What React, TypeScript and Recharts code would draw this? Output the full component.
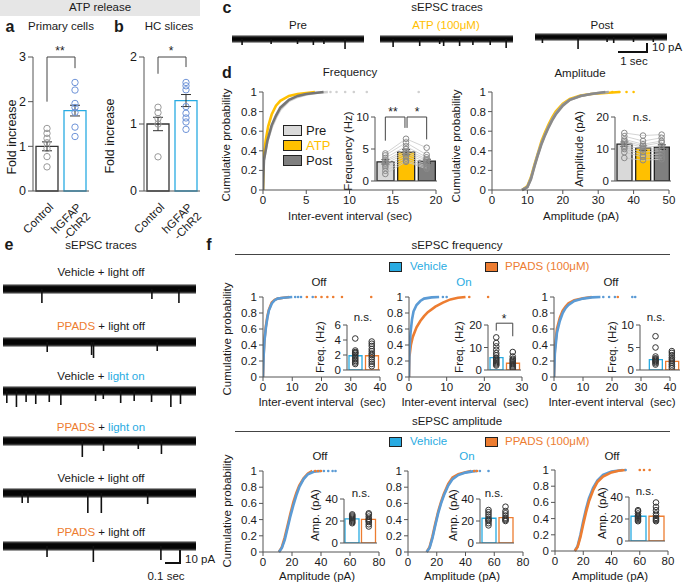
import React from 'react'
import {
  ComposedChart,
  Line,
  Bar,
  Cell,
  Scatter,
  XAxis,
  YAxis,
  ErrorBar,
  ReferenceLine,
  ReferenceArea,
} from 'recharts'

const FONT = '"Liberation Sans", Arial, Helvetica, sans-serif'
const AXIS = '#555'
const INK = '#1a1a1a'
const BLUE = '#29abe2'
const BLUE_LINE = '#5b9bd5'
const ORANGE = '#ed7d31'
const YELLOW = '#ffc000'
const LIGHT = '#d0d0d0'
const DARK = '#767676'

// ---- panel a / b : ATP release (fold increase)
const aCtrlDots = [1.4, 1.29, 1.18, 1.08, 0.95, 0.77, 0.54]
const aChr2Dots = [2.43, 2.26, 1.96, 1.87, 1.76, 1.43, 1.22]
const aBars = [1.0, 1.8]
const aErr = [0.1, 0.12]
const bCtrlDots = [1.25, 1.17, 1.08, 1.0, 0.51]
const bChr2Dots = [1.62, 1.57, 1.51, 1.26, 1.16, 1.09, 1.03, 0.92]
const bBars = [1.0, 1.35]
const bErr = [0.1, 0.09]

// ---- panel c : traces, [time fraction, spike depth]
const cPre = [[0.08, 3], [0.3, 2], [0.5, 2], [0.62, 3], [0.7, 2], [0.86, 7]]
const cAtp = [[0.1, 5], [0.3, 4], [0.45, 2], [0.48, 4], [0.6, 4], [0.7, 3], [0.83, 3], [0.95, 6]]
const cPost = [[0.06, 3], [0.33, 9], [0.55, 2], [0.6, 3], [0.75, 2], [0.9, 2]]

// ---- panel d : frequency / amplitude CDF, [x, cumulative p]
const dFreqPre = [[0, 0], [0.1, 0.3], [0.5, 0.5], [1, 0.64], [1.5, 0.74], [2, 0.82], [3, 0.91], [4, 0.95], [5, 0.975], [6, 0.99], [7.5, 1]]
const dFreqAtp = [[0, 0], [0.05, 0.3], [0.3, 0.5], [0.6, 0.65], [1, 0.77], [1.5, 0.86], [2, 0.91], [3, 0.96], [4, 0.98], [5, 0.99], [6, 1]]
const dFreqPost = [[0, 0], [0.1, 0.3], [0.5, 0.5], [1, 0.66], [1.5, 0.76], [2, 0.84], [3, 0.92], [4, 0.96], [5, 0.98], [6, 0.99], [7, 1]]
const dFreqTail = [7.8, 8.5, 9.5, 10.5, 12, 18]
const dAmpPre = [[8.5, 0], [10, 0.03], [11, 0.12], [12, 0.25], [13, 0.37], [14, 0.48], [15, 0.57], [16, 0.65], [17, 0.72], [18, 0.78], [20, 0.87], [22, 0.92], [25, 0.96], [28, 0.98], [30, 0.99], [33, 1]]
const dAmpAtp = [[8.5, 0], [10, 0.04], [11, 0.13], [12, 0.26], [13, 0.38], [14, 0.5], [15, 0.59], [16, 0.67], [17, 0.74], [18, 0.8], [20, 0.88], [22, 0.93], [25, 0.965], [28, 0.98], [32, 0.99], [36, 1]]
const dAmpPost = [[8.5, 0], [10, 0.03], [11, 0.11], [12, 0.24], [13, 0.36], [14, 0.47], [15, 0.56], [16, 0.64], [17, 0.71], [18, 0.77], [20, 0.86], [22, 0.92], [25, 0.96], [28, 0.98], [30, 0.99], [32, 1]]
const dAmpTail = [34, 36, 38, 40]

const dFreqPreCells = [4.3, 4.0, 3.6, 3.2, 3.0, 2.7, 2.4, 2.1, 1.6, 1.1]
const dFreqAtpCells = [6.6, 6.0, 5.4, 5.0, 4.6, 4.3, 3.9, 3.5, 3.2, 3.0]
const dFreqPostCells = [5.2, 4.1, 3.7, 3.4, 3.2, 2.9, 2.6, 2.3, 2.1, 1.9]
const dFreqMeans = [3.0, 4.5, 3.1]
const dFreqErr = [0.35, 0.4, 0.3]
const dAmpPreCells = [15, 14, 13, 12.5, 12, 11, 10.5, 10, 9, 7.2]
const dAmpAtpCells = [14.2, 12.5, 11.5, 11, 10.5, 10, 9, 8, 7.5, 6.5]
const dAmpPostCells = [14.5, 13.5, 12.5, 12, 11, 10, 9.5, 8.5, 7.5, 6.8]
const dAmpMeans = [11.5, 10.3, 10.6]
const dAmpErr = [0.7, 0.7, 0.7]

// ---- panel e : traces
const eVehOff1 = [[0.2, 10], [0.77, 6], [0.91, 10]]
const ePpOff1 = [[0.23, 6], [0.46, 9], [0.47, 12], [0.8, 5]]
const eVehOn = [[0.02, 8], [0.07, 12], [0.12, 7], [0.17, 9], [0.24, 7], [0.3, 10], [0.48, 6], [0.52, 4], [0.61, 8], [0.68, 6], [0.77, 7], [0.87, 12], [0.92, 9]]
const ePpOn = [[0.41, 12], [0.52, 6], [0.7, 4], [0.82, 9]]
const eVehOff2 = [[0.1, 6], [0.13, 6], [0.44, 16], [0.51, 16], [0.75, 7]]
const ePpOff2 = [[0.23, 7], [0.47, 12], [0.82, 10]]

// ---- panel f : frequency CDFs
const fFreqOff1Veh = [[0, 0], [0.2, 0.25], [0.5, 0.45], [1, 0.62], [1.5, 0.74], [2, 0.83], [3, 0.92], [4, 0.96], [5, 0.98], [7, 0.99], [10, 1]]
const fFreqOff1Pp = [[0, 0], [0.2, 0.27], [0.5, 0.47], [1, 0.64], [1.5, 0.76], [2, 0.84], [3, 0.93], [4, 0.965], [5, 0.98], [7, 0.99], [9, 1]]
const fFreqOff1VehTail = [11, 12, 13, 17]
const fFreqOff1PpTail = [15, 18, 20, 22, 24, 27, 37]
const fFreqOnVeh = [[0, 0], [0.1, 0.3], [0.4, 0.55], [0.8, 0.72], [1.2, 0.82], [2, 0.9], [3, 0.95], [4, 0.98], [6, 0.995], [8, 1]]
const fFreqOnPp = [[0, 0], [0.1, 0.25], [0.5, 0.4], [1, 0.5], [2, 0.62], [3, 0.7], [4, 0.76], [5, 0.81], [7, 0.88], [9, 0.93], [11, 0.97], [13, 0.99], [15, 1]]
const fFreqOnVehTail = [9, 10]
const fFreqOnPpTail = [16, 21]
const fFreqOff2Veh = [[0, 0], [0.3, 0.3], [1, 0.55], [2, 0.7], [3, 0.8], [4, 0.86], [5, 0.9], [7, 0.95], [10, 0.98], [13, 0.995], [16, 1]]
const fFreqOff2Pp = [[0, 0], [0.3, 0.35], [1, 0.6], [2, 0.74], [3, 0.83], [4, 0.88], [5, 0.92], [7, 0.96], [10, 0.985], [13, 1]]
const fFreqOff2VehTail = [17, 19, 21, 27, 28]
const fFreqOff2PpTail = [22]

const fFreqOff1Means = [1.9, 1.9]
const fFreqOff1VehCells = [4.2, 2.6, 2.4, 2.3, 2.2, 2.0, 1.8, 1.6, 1.4, 1.2, 1.0, 0.8]
const fFreqOff1PpCells = [3.8, 3.5, 3.2, 2.8, 2.5, 2.2, 2.0, 1.7, 1.4, 1.1, 0.8, 0.5]
const fFreqOnMeans = [5.5, 3.0]
const fFreqOnVehCells = [14.5, 12, 10.5, 9, 7.5, 6.5, 5.5, 5, 4.5, 4, 3.5, 3, 2.5, 2]
const fFreqOnPpCells = [8, 6, 5, 4.5, 4, 3.5, 3, 2.5, 2, 1.5, 1, 0.5]
const fFreqOff2Means = [2.3, 1.9]
const fFreqOff2VehCells = [7.5, 5, 3, 2.6, 2.4, 2.2, 2, 1.8, 1.5, 1.2]
const fFreqOff2PpCells = [4.2, 3.8, 3.3, 2.8, 2.4, 2, 1.6, 1.2, 0.8, 0.4]

// ---- panel f : amplitude CDFs
const fAmpOff1Veh = [[11, 0], [13, 0.05], [15, 0.15], [17, 0.3], [19, 0.45], [21, 0.58], [23, 0.7], [25, 0.8], [28, 0.9], [31, 0.96], [35, 0.99], [40, 1]]
const fAmpOff1Pp = [[11, 0], [13, 0.06], [15, 0.18], [17, 0.33], [19, 0.48], [21, 0.62], [23, 0.73], [25, 0.82], [28, 0.91], [31, 0.97], [34, 1]]
const fAmpOff1VehTail = [42, 45, 48, 50]
const fAmpOff1PpTail = [36, 38, 40]
const fAmpOnVeh = [[13, 0], [15, 0.05], [17, 0.17], [19, 0.33], [21, 0.48], [23, 0.6], [25, 0.7], [28, 0.82], [31, 0.9], [35, 0.95], [40, 0.98], [45, 0.995], [48, 1]]
const fAmpOnPp = [[13, 0], [15, 0.06], [17, 0.19], [19, 0.35], [21, 0.5], [23, 0.62], [25, 0.72], [28, 0.84], [31, 0.92], [35, 0.96], [40, 0.985], [44, 1]]
const fAmpOnVehTail = [50, 56]
const fAmpOnPpTail = [46, 48]
const fAmpOff2Veh = [[14, 0], [16, 0.06], [18, 0.2], [20, 0.37], [22, 0.52], [24, 0.65], [27, 0.78], [30, 0.87], [34, 0.94], [40, 0.98], [48, 1]]
const fAmpOff2Pp = [[14, 0], [16, 0.05], [18, 0.17], [20, 0.33], [22, 0.48], [24, 0.61], [27, 0.75], [30, 0.85], [34, 0.92], [40, 0.97], [45, 0.99], [50, 1]]
const fAmpOff2VehTail = [50]
const fAmpOff2PpTail = [60, 63, 67]

const fAmpOff1Means = [22, 21.5]
const fAmpOff1VehCells = [26, 25, 24, 23, 22, 21, 20, 19, 18]
const fAmpOff1PpCells = [27, 26, 24, 22, 21, 20, 19, 17, 15]
const fAmpOnMeans = [22.5, 23]
const fAmpOnVehCells = [30, 28, 26, 24, 22, 21, 20, 18, 16]
const fAmpOnPpCells = [33, 29, 27, 25, 23, 22, 21, 20]
const fAmpOff2Means = [22.5, 22.5]
const fAmpOff2VehCells = [28, 27, 25, 23, 22, 21, 20, 19, 18]
const fAmpOff2PpCells = [35, 31, 28, 25, 23, 21, 20, 19, 18]

const toXY = (pairs: number[][]) => pairs.map(([x, y]) => ({ x, y }))
const tail = (xs: number[]) => xs.map(x => ({ x, y: 1 }))

// text helpers
function T({ x, y, s = 11.5, c = INK, rot = false, b = false, children }: any) {
  return (
    <div
      style={{
        position: 'absolute',
        left: x,
        top: y,
        transform: `translate(-50%, -50%)${rot ? ' rotate(-90deg)' : ''}`,
        fontSize: s,
        color: c,
        fontWeight: b ? 700 : 400,
        whiteSpace: 'pre',
        lineHeight: 1,
      }}
    >
      {children}
    </div>
  )
}

function L({ x, y, s = 11.5, c = INK, children }: any) {
  return (
    <div style={{ position: 'absolute', left: x, top: y, transform: 'translateY(-50%)', fontSize: s, color: c, whiteSpace: 'pre', lineHeight: 1 }}>
      {children}
    </div>
  )
}

function Box({ x, y, w, h, fill }: any) {
  return <div style={{ position: 'absolute', left: x, top: y, width: w, height: h, background: fill, border: '1px solid #222', boxSizing: 'border-box' }} />
}

const tickStyle = { fontSize: 11.5, fill: INK, fontFamily: FONT }

// cumulative probability plot
function Cdf({ x0, y1, w, h, xMax, xTicks, lines, dots }: any) {
  const YW = 34
  const XH = 18
  const MT = 7
  const MR = 12
  return (
    <div style={{ position: 'absolute', left: x0 - YW, top: y1 - MT }}>
      <ComposedChart width={YW + w + MR} height={MT + h + XH} margin={{ top: MT, right: MR, left: 0, bottom: 0 }}>
        <XAxis type="number" dataKey="x" domain={[0, xMax]} ticks={xTicks} interval={0} allowDataOverflow height={XH} stroke={AXIS} tickSize={4} tick={tickStyle} />
        <YAxis type="number" dataKey="y" domain={[0, 1]} ticks={[0, 0.2, 0.4, 0.6, 0.8, 1]} interval={0} width={YW} stroke={AXIS} tickSize={4} tick={tickStyle} />
        {lines.map((l: any, i: number) => (
          <Line key={i} data={toXY(l.data)} dataKey="y" type="linear" stroke={l.color} strokeWidth={2.6} dot={false} isAnimationActive={false} />
        ))}
        {dots.map((d: any, i: number) => (
          <Scatter
            key={'t' + i}
            data={tail(d.data)}
            isAnimationActive={false}
            shape={(p: any) => <circle cx={p.cx} cy={p.cy} r={1.3} fill={d.color} />}
          />
        ))}
      </ComposedChart>
    </div>
  )
}

// inset bar plot with single-cell dots
function Inset({ x0, yTop, w, h, yMax, ticks, means, errs, fills, strokes, cells, dotColor, barSize, pad = 0, pairs = false, brackets = [] }: any) {
  const YW = 32
  const MT = 8
  const MB = 8
  const data = means.map((m: number, i: number) => ({ x: i + 0.5, y: m, e: errs ? errs[i] : 0 }))
  return (
    <div style={{ position: 'absolute', left: x0 - YW, top: yTop - MT }}>
      <ComposedChart width={YW + w + 4} height={MT + h + 2 + MB} data={data} margin={{ top: MT, right: 4, left: 0, bottom: MB }}>
        <XAxis type="number" dataKey="x" domain={[-pad, means.length]} allowDataOverflow height={2} tick={false} tickLine={false} stroke={AXIS} />
        <YAxis type="number" dataKey="y" domain={[0, yMax]} ticks={ticks} interval={0} allowDataOverflow width={YW} stroke={AXIS} tickSize={4} tick={tickStyle} />
        <Bar dataKey="y" barSize={barSize} strokeWidth={1.3} isAnimationActive={false}>
          {means.map((_: number, i: number) => (
            <Cell key={i} fill={fills[i]} stroke={strokes[i]} />
          ))}
          {errs && <ErrorBar dataKey="e" width={4} stroke="#222" strokeWidth={1} />}
        </Bar>
        {pairs &&
          cells[0].map((_: number, k: number) => (
            <Line
              key={'p' + k}
              data={cells.map((c: number[], i: number) => ({ x: i + 0.5, y: c[k] }))}
              dataKey="y"
              stroke="#c8c8c8"
              strokeWidth={0.8}
              dot={false}
              isAnimationActive={false}
            />
          ))}
        {cells.map((c: number[], i: number) => (
          <Scatter
            key={'s' + i}
            data={c.map(v => ({ x: i + 0.5, y: v }))}
            isAnimationActive={false}
            shape={(p: any) => <circle cx={p.cx} cy={p.cy} r={2.8} fill="none" stroke={dotColor} strokeWidth={1} />}
          />
        ))}
        {brackets.map((seg: number[][], i: number) => (
          <ReferenceLine
            key={'b' + i}
            segment={[{ x: seg[0][0], y: seg[0][1] }, { x: seg[1][0], y: seg[1][1] }]}
            stroke="#444"
            strokeWidth={1}
            ifOverflow="visible"
          />
        ))}
      </ComposedChart>
    </div>
  )
}

function RotTick(props: any) {
  const { x, y, payload } = props
  const lines = payload.value < 1 ? ['Control'] : ['hGFAP', '-ChR2']
  return (
    <g transform={`translate(${x + 7},${y + 9})`}>
      <text transform="rotate(-45)" textAnchor="end" fontSize={11.5} fill={INK} fontFamily={FONT}>
        {lines.map((l, i) => (
          <tspan key={i} x={0} dy={i === 0 ? 0 : '1.1em'}>
            {l}
          </tspan>
        ))}
      </text>
    </g>
  )
}

function FoldChart({ x0, yMax, ticks, means, errs, ctrl, chr2, brackets }: any) {
  const YW = 26
  const yTop = 57
  const h = 134
  const w = 56
  const data = means.map((m: number, i: number) => ({ x: i + 0.5, y: m, e: errs[i] }))
  const colors = ['#9a9a9a', '#6f94d8']
  return (
    <div style={{ position: 'absolute', left: x0 - YW, top: yTop - 8 }}>
      <ComposedChart width={YW + w + 6} height={8 + h + 50} data={data} margin={{ top: 8, right: 6, left: 0, bottom: 0 }}>
        <XAxis type="number" dataKey="x" domain={[0, 2]} ticks={[0.5, 1.5]} interval={0} allowDataOverflow height={50} tickLine={false} stroke={AXIS} tick={<RotTick />} />
        <YAxis type="number" dataKey="y" domain={[0, yMax]} ticks={ticks} interval={0} width={YW} stroke={AXIS} tickSize={5} tick={{ ...tickStyle, fontSize: 12.5 }} />
        <Bar dataKey="y" barSize={22} strokeWidth={1.3} isAnimationActive={false}>
          <Cell fill="#fff" stroke="#333" />
          <Cell fill="#fff" stroke={BLUE} />
          <ErrorBar dataKey="e" width={5} stroke="#333" strokeWidth={1} />
        </Bar>
        {[ctrl, chr2].map((c: number[], i: number) => (
          <Scatter
            key={i}
            data={c.map(v => ({ x: i + 0.5, y: v }))}
            isAnimationActive={false}
            shape={(p: any) => <circle cx={p.cx} cy={p.cy} r={3.2} fill="none" stroke={colors[i]} strokeWidth={1} />}
          />
        ))}
        {brackets.map((seg: number[][], i: number) => (
          <ReferenceLine key={'b' + i} segment={[{ x: seg[0][0], y: seg[0][1] }, { x: seg[1][0], y: seg[1][1] }]} stroke="#444" ifOverflow="visible" />
        ))}
      </ComposedChart>
    </div>
  )
}

// sEPSC trace: noisy baseline band plus downward events
function Trace({ x, y, w, events, band = 4, depth = 30 }: any) {
  const data = events.map(([t, a]: number[]) => ({ x: t, y: -(band + a) }))
  return (
    <div style={{ position: 'absolute', left: x, top: y - 8 }}>
      <ComposedChart width={w} height={8 + depth} data={data} margin={{ top: 0, right: 0, left: 0, bottom: 0 }}>
        <XAxis type="number" dataKey="x" domain={[0, 1]} hide allowDataOverflow />
        <YAxis type="number" dataKey="y" domain={[-depth, 8]} hide allowDataOverflow />
        <ReferenceArea x1={0} x2={1} y1={-band - 1} y2={band + 1} fill="#9a9a9a" fillOpacity={1} stroke="none" ifOverflow="visible" />
        <ReferenceArea x1={0} x2={1} y1={-band} y2={band} fill="#3a3a3a" fillOpacity={1} stroke="none" ifOverflow="visible" />
        <ReferenceArea x1={0} x2={1} y1={-band + 1.2} y2={band - 1.2} fill="#050505" fillOpacity={1} stroke="none" ifOverflow="visible" />
        <Bar dataKey="y" fill="#111" barSize={1.6} isAnimationActive={false} />
      </ComposedChart>
    </div>
  )
}

const blueOrange = { fills: ['#fff', '#fff'], strokes: [BLUE, ORANGE] }

export default function App() {
  return (
    <div style={{ position: 'absolute', left: 0, top: 0, width: 685, height: 583, background: '#fff', fontFamily: FONT, overflow: 'hidden' }}>
      {/* a / b header */}
      <div style={{ position: 'absolute', left: 0, top: 0, width: 200, height: 16, background: '#e6e6e6' }} />
      <T x={100} y={8}>ATP release</T>
      <T x={10} y={27} s={16} b>a</T>
      <T x={61} y={27}>Primary cells</T>
      <T x={119} y={27} s={16} b>b</T>
      <T x={169} y={27}>HC slices</T>
      <T x={12} y={137} s={12.5} rot>Fold increase</T>
      <T x={110} y={136} s={12.5} rot>Fold increase</T>
      <T x={60} y={51} s={12}>**</T>
      <T x={171} y={51} s={12}>*</T>
      <FoldChart
        x0={33}
        yMax={3}
        ticks={[0, 1, 2, 3]}
        means={aBars}
        errs={aErr}
        ctrl={aCtrlDots}
        chr2={aChr2Dots}
        brackets={[[[0.5, 2.0], [0.5, 3]], [[0.5, 3], [1.5, 3]], [[1.5, 3], [1.5, 2.75]]]}
      />
      <FoldChart
        x0={144}
        yMax={2}
        ticks={[0, 1, 2]}
        means={bBars}
        errs={bErr}
        ctrl={bCtrlDots}
        chr2={bChr2Dots}
        brackets={[[[0.5, 1.75], [0.5, 2]], [[0.5, 2], [1.5, 2]], [[1.5, 2], [1.5, 1.85]]]}
      />

      {/* c */}
      <T x={227} y={8} s={16} b>c</T>
      <T x={447} y={8}>sEPSC traces</T>
      <T x={298} y={26}>Pre</T>
      <T x={446} y={26} c={YELLOW}>ATP (100μM)</T>
      <T x={602} y={26}>Post</T>
      <Trace x={232} y={39} w={132} events={cPre} band={3} depth={16} />
      <Trace x={380} y={39} w={133} events={cAtp} band={3} depth={16} />
      <Trace x={535} y={37} w={132} events={cPost} band={3} depth={16} />
      <div style={{ position: 'absolute', left: 618, top: 51, width: 30, height: 2, background: '#111' }} />
      <div style={{ position: 'absolute', left: 646, top: 43, width: 2, height: 10, background: '#111' }} />
      <L x={652} y={48}>10 pA</L>
      <T x={634} y={62}>1 sec</T>

      {/* d */}
      <T x={227} y={73} s={16} b>d</T>
      <T x={350} y={73}>Frequency</T>
      <T x={580} y={74}>Amplitude</T>
      <T x={227} y={145} rot>Cumulative probability</T>
      <T x={457} y={146} rot>Cumulative probability</T>
      <Cdf
        x0={263}
        y1={92}
        w={173}
        h={98}
        xMax={20}
        xTicks={[0, 5, 10, 15, 20]}
        lines={[
          { data: dFreqPre, color: LIGHT },
          { data: dFreqAtp, color: YELLOW },
          { data: dFreqPost, color: DARK },
        ]}
        dots={[{ data: dFreqTail, color: LIGHT }]}
      />
      <Cdf
        x0={492}
        y1={92}
        w={177}
        h={98}
        xMax={50}
        xTicks={[0, 10, 20, 30, 40, 50]}
        lines={[
          { data: dAmpAtp, color: YELLOW },
          { data: dAmpPre, color: '#a8a8a8' },
          { data: dAmpPost, color: '#8a8a8a' },
        ]}
        dots={[{ data: dAmpTail, color: YELLOW }]}
      />
      <T x={350} y={217}>Inter-event interval (sec)</T>
      <T x={581} y={217}>Amplitude (pA)</T>
      <Box x={283} y={125} w={19} h={11} fill="#d9d9d9" />
      <Box x={283} y={140} w={19} h={11} fill={YELLOW} />
      <Box x={283} y={155} w={19} h={11} fill="#7f7f7f" />
      <L x={306} y={130} s={13}>Pre</L>
      <L x={306} y={145} s={13} c={YELLOW}>ATP</L>
      <L x={306} y={160} s={13}>Post</L>
      <T x={349} y={151} rot>Frequency (Hz)</T>
      <Inset
        x0={375}
        yTop={117}
        w={62}
        h={64}
        yMax={10}
        ticks={[0, 5, 10]}
        means={dFreqMeans}
        errs={dFreqErr}
        fills={['#d9d9d9', YELLOW, '#7f7f7f']}
        strokes={['#222', '#222', '#222']}
        cells={[dFreqPreCells, dFreqAtpCells, dFreqPostCells]}
        dotColor="#8a8a8a"
        barSize={17}
        pairs
        brackets={[
          [[0.5, 6.3], [0.5, 10]],
          [[0.5, 10], [1.45, 10]],
          [[1.45, 10], [1.45, 8.3]],
          [[1.55, 8.3], [1.55, 10]],
          [[1.55, 10], [2.5, 10]],
          [[2.5, 10], [2.5, 6.5]],
        ]}
      />
      <T x={393} y={112} s={12}>**</T>
      <T x={417} y={112} s={12}>*</T>
      <T x={580} y={149} rot>Amplitude (pA)</T>
      <Inset
        x0={615}
        yTop={117}
        w={56}
        h={64}
        yMax={20}
        ticks={[0, 10, 20]}
        means={dAmpMeans}
        errs={dAmpErr}
        fills={['#d9d9d9', YELLOW, '#7f7f7f']}
        strokes={['#222', '#222', '#222']}
        cells={[dAmpPreCells, dAmpAtpCells, dAmpPostCells]}
        dotColor="#8a8a8a"
        barSize={15}
        pairs
      />
      <T x={642} y={118}>n.s.</T>

      {/* e */}
      <T x={9} y={245} s={16} b>e</T>
      <T x={101} y={246}>sEPSC traces</T>
      <T x={101} y={273}>Vehicle + light off</T>
      <Trace x={3} y={289} w={193} events={eVehOff1} band={4} />
      <T x={101} y={327}><span style={{ color: ORANGE }}>PPADS</span> + light off</T>
      <Trace x={3} y={342} w={193} events={ePpOff1} band={4} />
      <T x={101} y={377}>Vehicle + <span style={{ color: BLUE }}>light on</span></T>
      <Trace x={3} y={391} w={193} events={eVehOn} band={4} />
      <T x={101} y={428}><span style={{ color: ORANGE }}>PPADS</span> + <span style={{ color: BLUE }}>light on</span></T>
      <Trace x={3} y={441} w={193} events={ePpOn} band={4} />
      <T x={101} y={479}>Vehicle + light off</T>
      <Trace x={3} y={493} w={193} events={eVehOff2} band={4} />
      <T x={101} y={533}><span style={{ color: ORANGE }}>PPADS</span> + light off</T>
      <Trace x={3} y={546} w={193} events={ePpOff2} band={4} />
      <div style={{ position: 'absolute', left: 165, top: 562, width: 16, height: 2, background: '#111' }} />
      <div style={{ position: 'absolute', left: 179, top: 550, width: 2, height: 14, background: '#111' }} />
      <L x={185} y={560}>10 pA</L>
      <T x={166} y={577}>0.1 sec</T>

      {/* f : frequency */}
      <T x={209} y={245} s={16} b>f</T>
      <T x={457} y={246}>sEPSC frequency</T>
      <div style={{ position: 'absolute', left: 235, top: 254, width: 435, height: 1, background: '#444' }} />
      <Box x={389} y={262} w={13} h={10} fill={BLUE} />
      <L x={410} y={267} c={BLUE}>Vehicle</L>
      <Box x={485} y={262} w={13} h={10} fill={ORANGE} />
      <L x={505} y={267} c={ORANGE}>PPADS (100μM)</L>
      <T x={319} y={283}>Off</T>
      <T x={464} y={283} c={BLUE}>On</T>
      <T x={611} y={283}>Off</T>
      <T x={228} y={339} rot>Cumulative probability</T>
      <Cdf
        x0={263}
        y1={297}
        w={117}
        h={80}
        xMax={40}
        xTicks={[0, 10, 20, 30, 40]}
        lines={[
          { data: fFreqOff1Pp, color: ORANGE },
          { data: fFreqOff1Veh, color: BLUE_LINE },
        ]}
        dots={[
          { data: fFreqOff1PpTail, color: ORANGE },
          { data: fFreqOff1VehTail, color: BLUE_LINE },
        ]}
      />
      <Cdf
        x0={409}
        y1={297}
        w={113}
        h={80}
        xMax={30}
        xTicks={[0, 10, 20, 30]}
        lines={[
          { data: fFreqOnPp, color: ORANGE },
          { data: fFreqOnVeh, color: BLUE_LINE },
        ]}
        dots={[
          { data: fFreqOnPpTail, color: ORANGE },
          { data: fFreqOnVehTail, color: BLUE_LINE },
        ]}
      />
      <Cdf
        x0={554}
        y1={297}
        w={116}
        h={80}
        xMax={40}
        xTicks={[0, 10, 20, 30, 40]}
        lines={[
          { data: fFreqOff2Pp, color: ORANGE },
          { data: fFreqOff2Veh, color: BLUE_LINE },
        ]}
        dots={[
          { data: fFreqOff2PpTail, color: ORANGE },
          { data: fFreqOff2VehTail, color: BLUE_LINE },
        ]}
      />
      <T x={322} y={403}>Inter-event interval  (sec)</T>
      <T x={465} y={403}>Inter-event interval  (sec)</T>
      <T x={612} y={403}>Inter-event interval  (sec)</T>

      <T x={321} y={347} rot>Freq. (Hz)</T>
      <Inset x0={347} yTop={325} w={33} h={45} yMax={6} ticks={[0, 2, 4, 6]} means={fFreqOff1Means} {...blueOrange} cells={[fFreqOff1VehCells, fFreqOff1PpCells]} dotColor="#333" barSize={13} />
      <T x={363} y={318}>n.s.</T>
      <T x={460} y={347} rot>Freq. (Hz)</T>
      <Inset
        x0={488}
        yTop={325}
        w={33}
        h={45}
        yMax={20}
        ticks={[0, 10, 20]}
        means={fFreqOnMeans}
        {...blueOrange}
        cells={[fFreqOnVehCells, fFreqOnPpCells]}
        dotColor="#333"
        barSize={13}
        brackets={[
          [[0.5, 17.5], [0.5, 20.8]],
          [[0.5, 20.8], [1.5, 20.8]],
          [[1.5, 20.8], [1.5, 15]],
        ]}
      />
      <T x={504} y={319} s={12}>*</T>
      <T x={613} y={347} rot>Freq. (Hz)</T>
      <Inset x0={640} yTop={325} w={40} h={45} yMax={10} ticks={[0, 5, 10]} means={fFreqOff2Means} pad={0.45} {...blueOrange} cells={[fFreqOff2VehCells, fFreqOff2PpCells]} dotColor="#333" barSize={13} />
      <T x={656} y={318}>n.s.</T>

      {/* f : amplitude */}
      <T x={457} y={422}>sEPSC amplitude</T>
      <div style={{ position: 'absolute', left: 235, top: 431, width: 435, height: 1, background: '#444' }} />
      <Box x={389} y={437} w={13} h={10} fill={BLUE} />
      <L x={410} y={442} c={BLUE}>Vehicle</L>
      <Box x={485} y={437} w={13} h={10} fill={ORANGE} />
      <L x={505} y={442} c={ORANGE}>PPADS (100μM)</L>
      <T x={320} y={457}>Off</T>
      <T x={467} y={457} c={BLUE}>On</T>
      <T x={612} y={457}>Off</T>
      <T x={228} y={511} rot>Cumulative probability</T>
      <Cdf
        x0={263}
        y1={471}
        w={116}
        h={81}
        xMax={80}
        xTicks={[0, 20, 40, 60, 80]}
        lines={[
          { data: fAmpOff1Pp, color: ORANGE },
          { data: fAmpOff1Veh, color: BLUE_LINE },
        ]}
        dots={[
          { data: fAmpOff1PpTail, color: ORANGE },
          { data: fAmpOff1VehTail, color: BLUE_LINE },
        ]}
      />
      <Cdf
        x0={408}
        y1={471}
        w={115}
        h={81}
        xMax={80}
        xTicks={[0, 20, 40, 60, 80]}
        lines={[
          { data: fAmpOnPp, color: ORANGE },
          { data: fAmpOnVeh, color: BLUE_LINE },
        ]}
        dots={[
          { data: fAmpOnPpTail, color: ORANGE },
          { data: fAmpOnVehTail, color: BLUE_LINE },
        ]}
      />
      <Cdf
        x0={555}
        y1={470}
        w={113}
        h={81}
        xMax={80}
        xTicks={[0, 20, 40, 60, 80]}
        lines={[
          { data: fAmpOff2Veh, color: BLUE_LINE },
          { data: fAmpOff2Pp, color: ORANGE },
        ]}
        dots={[
          { data: fAmpOff2PpTail, color: ORANGE },
          { data: fAmpOff2VehTail, color: BLUE_LINE },
        ]}
      />
      <T x={317} y={577}>Amplitude (pA)</T>
      <T x={462} y={577}>Amplitude (pA)</T>
      <T x={610} y={577}>Amplitude (pA)</T>

      <T x={316} y={515} rot>Amp. (pA)</T>
      <Inset x0={344} yTop={499} w={33} h={44} yMax={40} ticks={[0, 20, 40]} means={fAmpOff1Means} {...blueOrange} cells={[fAmpOff1VehCells, fAmpOff1PpCells]} dotColor="#333" barSize={14} />
      <T x={361} y={494}>n.s.</T>
      <T x={454} y={515} rot>Amp. (pA)</T>
      <Inset x0={480} yTop={499} w={34} h={44} yMax={40} ticks={[0, 20, 40]} means={fAmpOnMeans} {...blueOrange} cells={[fAmpOnVehCells, fAmpOnPpCells]} dotColor="#333" barSize={14} />
      <T x={494} y={494}>n.s.</T>
      <T x={603} y={513} rot>Amp. (pA)</T>
      <Inset x0={629} yTop={497} w={36} h={44} yMax={40} ticks={[0, 20, 40]} means={fAmpOff2Means} {...blueOrange} cells={[fAmpOff2VehCells, fAmpOff2PpCells]} dotColor="#333" barSize={15} />
      <T x={645} y={492}>n.s.</T>
    </div>
  )
}
